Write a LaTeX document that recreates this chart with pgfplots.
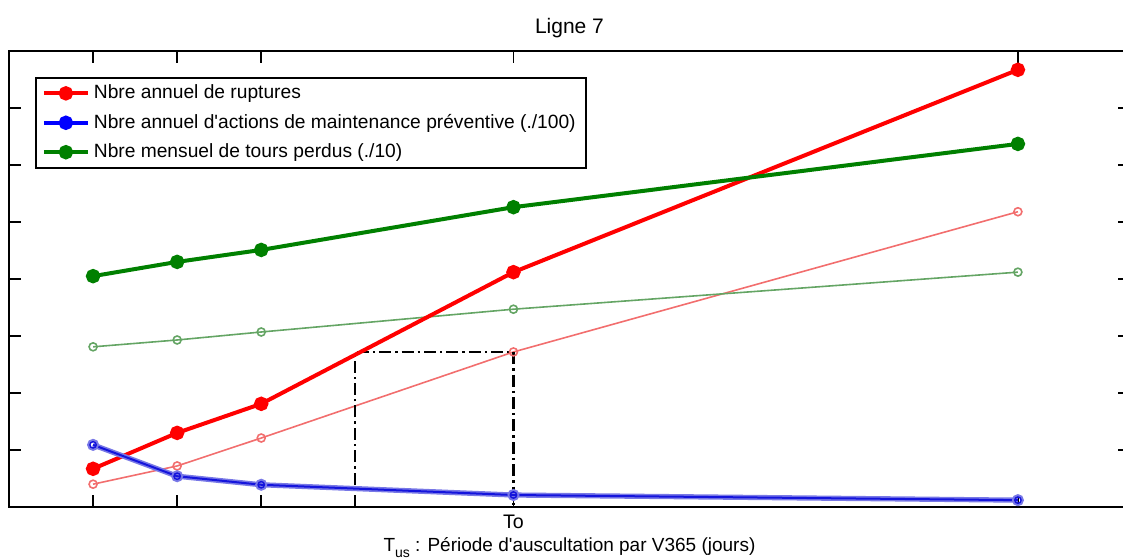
\documentclass[border=0pt]{standalone}
\usepackage{fontspec}
\setmainfont{Liberation Sans}
\usepackage{pgfplots}
\pgfplotsset{compat=1.18}

\definecolor{mred}{RGB}{255,0,0}
\definecolor{mgreen}{RGB}{0,128,0}
\definecolor{lred}{RGB}{242,110,110}
\definecolor{lgreen}{RGB}{100,165,100}
\definecolor{bband}{RGB}{120,120,230}
\definecolor{bcore}{RGB}{20,20,220}

\begin{document}
\begin{tikzpicture}[font=\fontsize{9.5}{11}\selectfont]
\begin{axis}[
    name=ax,
    scale only axis,
    width=560.5pt, height=228pt,
    xmin=0, xmax=400,
    ymin=0, ymax=8,
    axis line style={line width=0.9pt},
    tick align=inside,
    major tick length=6pt,
    tick style={black, line width=0.9pt},
    xtick={30,60,90,180,360},
    xticklabels={{},{},{},To,{}},
    ytick={0,1,2,3,4,5,6,7,8},
    yticklabels={},
    xticklabel style={font=\fontsize{9.8}{11}\selectfont, yshift=-0.5pt},
    title={Ligne 7},
    title style={at={(0.5,1)}, anchor=base, yshift=2.5pt, inner sep=0pt,
        font=\fontsize{10.5}{12}\selectfont},
    xlabel={T\raisebox{-3pt}{\fontsize{7}{8}\selectfont us} : Période d\textquotesingle auscultation par V365 (jours)},
    xlabel style={at={(0.5,0)}, anchor=base, yshift=-22.5pt, inner sep=0pt},
    legend cell align=left,
    legend style={at={(0.0232,0.943)}, anchor=north west, draw=black, line width=0.9pt,
        font=\fontsize{9.6}{11}\selectfont, inner xsep=3pt, inner ysep=1.5pt,
        row sep=2.2pt},
    legend image code/.code={
        \draw[mark repeat=2, mark phase=2, line width=2pt]
            plot coordinates {(0pt,0pt) (11pt,0pt) (22pt,0pt)};},
]

% reference curves (thin, light)
\addplot[color=lred, line width=0.8pt, mark=o, mark size=2pt, forget plot] coordinates {
    (30,0.40) (60,0.72) (90,1.21) (180,2.72) (360,5.18)
};
\addplot[color=lgreen, line width=0.8pt, mark=o, mark size=2pt, forget plot] coordinates {
    (30,2.81) (60,2.93) (90,3.07) (180,3.47) (360,4.12)
};

% dash-dot construction around To
\addplot[black, line width=1.1pt, dash pattern=on 6pt off 2pt on 1.2pt off 2pt, forget plot] coordinates {
    (123.5,0) (123.5,2.72) (180,2.72) (180,0)
};

% main curves
\addplot[color=mred, line width=2pt, mark=*, mark size=2.6pt] coordinates {
    (30,0.67) (60,1.30) (90,1.81) (180,4.12) (360,7.67)
};
\addlegendentry{Nbre annuel de ruptures}

\addplot[color=bband, line width=2.6pt, mark=o, mark size=2.4pt, mark options={line width=1.2pt}, forget plot] coordinates {
    (30,1.09) (60,0.54) (90,0.39) (180,0.21) (360,0.12)
};
\addplot[color=bcore, line width=1pt, mark=o, mark size=1.6pt, mark options={line width=0.7pt}, forget plot] coordinates {
    (30,1.09) (60,0.54) (90,0.39) (180,0.21) (360,0.12)
};
\addlegendimage{color=blue, line width=2pt, mark=*, mark size=2.6pt}
\addlegendentry{Nbre annuel d\textquotesingle actions de maintenance préventive (./100)\hspace{6pt}}

\addplot[color=mgreen, line width=2pt, mark=*, mark size=2.6pt] coordinates {
    (30,4.05) (60,4.30) (90,4.51) (180,5.26) (360,6.37)
};
\addlegendentry{Nbre mensuel de tours perdus (./10)}

\coordinate (sw) at (rel axis cs:0,0);
\coordinate (ne) at (rel axis cs:1,1);
\end{axis}
\pgfresetboundingbox
\path[use as bounding box] ([xshift=-4.5pt,yshift=-25.5pt]sw) rectangle ([xshift=-3.5pt,yshift=25.5pt]ne);
\end{tikzpicture}
\end{document}
